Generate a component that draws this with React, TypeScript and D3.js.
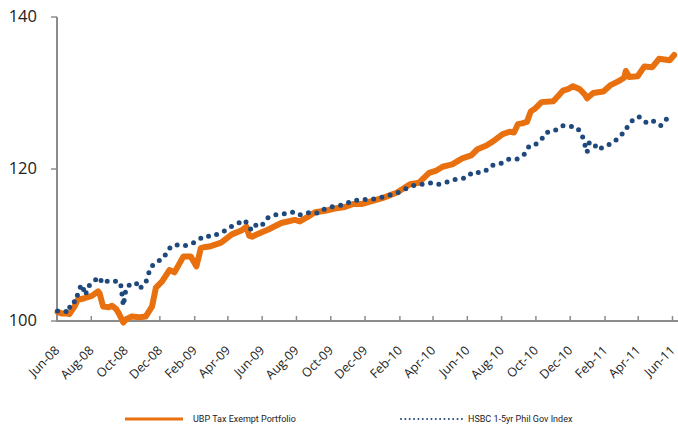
import * as d3 from "d3";
import { useEffect, useRef } from "react";

// UBP Tax Exempt Portfolio
const ubpDates = [
  "2008-06-02", "2008-06-09", "2008-06-16", "2008-06-23", "2008-07-02", "2008-07-08",
  "2008-07-20", "2008-08-02", "2008-08-13", "2008-08-16", "2008-08-22", "2008-09-01",
  "2008-09-07", "2008-09-14", "2008-09-19", "2008-09-27", "2008-10-02", "2008-10-12",
  "2008-10-26", "2008-11-06", "2008-11-17", "2008-11-24", "2008-12-05", "2008-12-18",
  "2008-12-27", "2009-01-12", "2009-01-25", "2009-02-04", "2009-02-12", "2009-02-17",
  "2009-02-27", "2009-03-20", "2009-04-08", "2009-04-25", "2009-05-04", "2009-05-09",
  "2009-05-14", "2009-05-23", "2009-06-11", "2009-07-05", "2009-07-29", "2009-08-07",
  "2009-08-21", "2009-09-03", "2009-09-21", "2009-10-08", "2009-10-26", "2009-11-10",
  "2009-11-26", "2009-12-10", "2010-01-02", "2010-01-27", "2010-02-19", "2010-03-07",
  "2010-03-25", "2010-04-07", "2010-04-18", "2010-05-05", "2010-05-23", "2010-06-08",
  "2010-06-19", "2010-07-05", "2010-07-16", "2010-08-03", "2010-08-15", "2010-08-23",
  "2010-08-30", "2010-09-06", "2010-09-15", "2010-09-22", "2010-09-29", "2010-10-11",
  "2010-11-01", "2010-11-18", "2010-11-27", "2010-12-06", "2010-12-18", "2010-12-27",
  "2010-12-31", "2011-01-11", "2011-01-29", "2011-02-10", "2011-02-26", "2011-03-07",
  "2011-03-10", "2011-03-16", "2011-03-31", "2011-04-12", "2011-04-26", "2011-05-08",
  "2011-05-27", "2011-06-04",
];
const ubpValues = [
  101.2, 101.0, 101.0, 100.9, 101.9, 102.8,
  103.0, 103.3, 103.9, 103.6, 101.9, 101.8,
  102.0, 101.6, 101.0, 99.8, 100.2, 100.6,
  100.5, 100.6, 101.9, 104.4, 105.2, 106.7,
  106.4, 108.5, 108.5, 107.2, 109.6, 109.7,
  109.8, 110.3, 111.4, 111.9, 112.4, 111.2,
  111.1, 111.4, 112.0, 112.9, 113.3, 113.1,
  113.7, 114.3, 114.5, 114.8, 115.0, 115.4,
  115.4, 115.7, 116.2, 116.9, 118.0, 118.2,
  119.5, 119.8, 120.3, 120.6, 121.4, 121.8,
  122.6, 123.1, 123.6, 124.6, 124.9, 124.8,
  125.9, 126.0, 126.2, 127.6, 127.9, 128.8,
  128.9, 130.3, 130.5, 130.9, 130.5, 129.8,
  129.3, 130.0, 130.2, 131.0, 131.6, 132.0,
  132.9, 132.1, 132.2, 133.5, 133.4, 134.5,
  134.3, 135.0,
];

// HSBC 1-5yr Phil Gov Index
const hsbcDates = [
  "2008-06-02", "2008-06-16", "2008-06-22", "2008-06-25", "2008-07-06", "2008-07-08",
  "2008-07-15", "2008-07-22", "2008-07-25", "2008-08-04", "2008-08-13", "2008-08-22",
  "2008-08-25", "2008-09-06", "2008-09-18", "2008-09-23", "2008-09-27", "2008-10-02",
  "2008-10-11", "2008-10-20", "2008-10-25", "2008-11-05", "2008-11-09", "2008-11-14",
  "2008-11-25", "2008-12-07", "2008-12-16", "2008-12-24", "2009-01-07", "2009-01-14",
  "2009-01-28", "2009-02-08", "2009-02-19", "2009-03-03", "2009-03-15", "2009-03-27",
  "2009-04-06", "2009-04-20", "2009-04-30", "2009-05-06", "2009-05-13", "2009-05-22",
  "2009-05-31", "2009-06-09", "2009-06-20", "2009-07-04", "2009-07-15", "2009-07-25",
  "2009-08-05", "2009-08-16", "2009-08-27", "2009-09-09", "2009-09-21", "2009-10-07",
  "2009-10-23", "2009-11-08", "2009-11-24", "2009-12-08", "2009-12-22", "2010-01-10",
  "2010-01-26", "2010-02-11", "2010-02-24", "2010-03-13", "2010-03-31", "2010-04-11",
  "2010-04-27", "2010-05-13", "2010-05-29", "2010-06-11", "2010-06-25", "2010-07-04",
  "2010-07-16", "2010-08-02", "2010-08-14", "2010-08-28", "2010-09-10", "2010-09-19",
  "2010-09-28", "2010-10-10", "2010-10-19", "2010-10-30", "2010-11-10", "2010-11-18",
  "2010-12-03", "2010-12-13", "2010-12-22", "2010-12-31", "2011-01-04", "2011-01-10",
  "2011-01-20", "2011-01-29", "2011-02-07", "2011-02-17", "2011-02-26", "2011-03-09",
  "2011-03-13", "2011-03-22", "2011-04-02", "2011-04-11", "2011-04-19", "2011-04-28",
  "2011-05-11", "2011-05-18", "2011-05-29",
];
const hsbcValues = [
  101.3, 101.3, 101.1, 102.4, 102.6, 103.8,
  104.8, 103.4, 104.5, 105.0, 105.8, 105.0,
  105.3, 105.1, 105.3, 104.6, 102.0, 104.4,
  104.9, 105.0, 104.2, 104.9, 105.7, 107.0,
  107.8, 108.2, 109.4, 110.0, 110.0, 109.9,
  110.2, 110.7, 111.2, 111.1, 111.5, 111.9,
  112.4, 112.9, 113.3, 112.8, 111.9, 112.7,
  112.5, 113.5, 113.9, 114.1, 114.1, 114.3,
  113.9, 114.2, 114.3, 114.2, 114.8, 115.1,
  115.3, 115.8, 116.0, 116.0, 116.1, 116.5,
  116.8, 117.4, 117.8, 118.0, 118.2, 118.0,
  118.3, 118.7, 118.8, 119.6, 119.5, 119.8,
  120.5, 120.8, 121.3, 121.3, 121.9, 123.0,
  123.1, 123.8, 124.8, 124.9, 125.3, 125.7,
  125.6, 125.5, 124.5, 122.2, 123.5, 123.5,
  122.5, 122.9, 123.2, 123.5, 124.3, 124.9,
  125.6, 126.4, 126.9, 126.3, 126.0, 126.3,
  125.7, 126.3, 127.2,
];

const xTickLabels = [
  "Jun-08", "Aug-08", "Oct-08", "Dec-08", "Feb-09", "Apr-09", "Jun-09", "Aug-09",
  "Oct-09", "Dec-09", "Feb-10", "Apr-10", "Jun-10", "Aug-10", "Oct-10", "Dec-10",
  "Feb-11", "Apr-11", "Jun-11",
];
const yTicks = [100, 120, 140];
const seriesNames = ["UBP Tax Exempt Portfolio", "HSBC 1-5yr Phil Gov Index"];

const ORANGE = "#E8700F";
const BLUE = "#1F497D";
const AXIS = "#8C8C8C";

export default function App() {
  const ref = useRef<SVGSVGElement | null>(null);

  useEffect(() => {
    if (!ref.current) return;
    const svg = d3.select(ref.current);
    svg.selectAll("*").remove();

    const width = 678;
    const parseDay = d3.timeParse("%Y-%m-%d");
    const parseMonth = d3.timeParse("%b-%y");

    const x = d3
      .scaleTime()
      .domain([new Date(2008, 5, 1), new Date(2011, 5, 9)])
      .range([57, width - 1]);
    const y = d3.scaleLinear().domain([100, 140]).range([321, 17]);

    const ubp = ubpDates.map((d, i) => ({ date: parseDay(d)!, value: ubpValues[i] }));
    const hsbc = hsbcDates.map((d, i) => ({ date: parseDay(d)!, value: hsbcValues[i] }));

    const line = d3
      .line<{ date: Date; value: number }>()
      .x((d) => x(d.date))
      .y((d) => y(d.value));

    // y axis
    const yAxis = svg.append("g");
    yAxis
      .append("line")
      .attr("x1", 57)
      .attr("x2", 57)
      .attr("y1", y(140))
      .attr("y2", y(100))
      .attr("stroke", AXIS)
      .attr("stroke-width", 2);
    yAxis
      .selectAll("line.tick")
      .data(yTicks)
      .join("line")
      .attr("class", "tick")
      .attr("x1", 51)
      .attr("x2", 57)
      .attr("y1", (d) => y(d))
      .attr("y2", (d) => y(d))
      .attr("stroke", AXIS)
      .attr("stroke-width", 1.5);
    yAxis
      .selectAll("text")
      .data(yTicks)
      .join("text")
      .attr("x", 37)
      .attr("y", (d) => y(d) + 5)
      .attr("text-anchor", "end")
      .attr("font-family", "'Open Sans', sans-serif")
      .attr("font-size", 16.5)
      .attr("fill", "#222")
      .text((d) => d);

    // x axis
    const tickDates = xTickLabels.map((t) => parseMonth(t)!);
    const xAxis = svg.append("g");
    xAxis
      .append("line")
      .attr("x1", 56)
      .attr("x2", width)
      .attr("y1", 321)
      .attr("y2", 321)
      .attr("stroke", AXIS)
      .attr("stroke-width", 2);
    xAxis
      .selectAll("line.tick")
      .data(tickDates)
      .join("line")
      .attr("class", "tick")
      .attr("x1", (d) => x(d))
      .attr("x2", (d) => x(d))
      .attr("y1", 316)
      .attr("y2", 321)
      .attr("stroke", AXIS)
      .attr("stroke-width", 1.5);
    xAxis
      .selectAll("text")
      .data(tickDates)
      .join("text")
      .attr("transform", (d) => `translate(${x(d) - 3},${345}) rotate(-45)`)
      .attr("text-anchor", "end")
      .attr("dy", "0.7em")
      .attr("font-family", "'Open Sans', sans-serif")
      .attr("font-size", 12.5)
      .attr("fill", "#222")
      .text((d, i) => xTickLabels[i]);

    // series
    svg
      .append("path")
      .datum(ubp)
      .attr("d", line)
      .attr("fill", "none")
      .attr("stroke", ORANGE)
      .attr("stroke-width", 6)
      .attr("stroke-linejoin", "round")
      .attr("stroke-linecap", "round");

    svg
      .append("path")
      .datum(hsbc)
      .attr("d", line)
      .attr("fill", "none")
      .attr("stroke", BLUE)
      .attr("stroke-width", 5)
      .attr("stroke-linecap", "round")
      .attr("stroke-dasharray", "0 8.5");

    // legend
    const legend = svg.append("g").attr("font-family", "Roboto, sans-serif").attr("font-size", 9);
    legend
      .append("line")
      .attr("x1", 125)
      .attr("x2", 183)
      .attr("y1", 419)
      .attr("y2", 419)
      .attr("stroke", ORANGE)
      .attr("stroke-width", 3);
    legend.append("text").attr("x", 193).attr("y", 422).attr("fill", "#222").text(seriesNames[0]);
    legend
      .append("line")
      .attr("x1", 401)
      .attr("x2", 462)
      .attr("y1", 419)
      .attr("y2", 419)
      .attr("stroke", BLUE)
      .attr("stroke-width", 2)
      .attr("stroke-linecap", "round")
      .attr("stroke-dasharray", "0 4.35");
    legend.append("text").attr("x", 468).attr("y", 422).attr("fill", "#222").text(seriesNames[1]);
  }, []);

  return (
    <svg
      ref={ref}
      width={678}
      height={426}
      style={{ position: "absolute", left: 0, top: 0, background: "#fff" }}
    />
  );
}
